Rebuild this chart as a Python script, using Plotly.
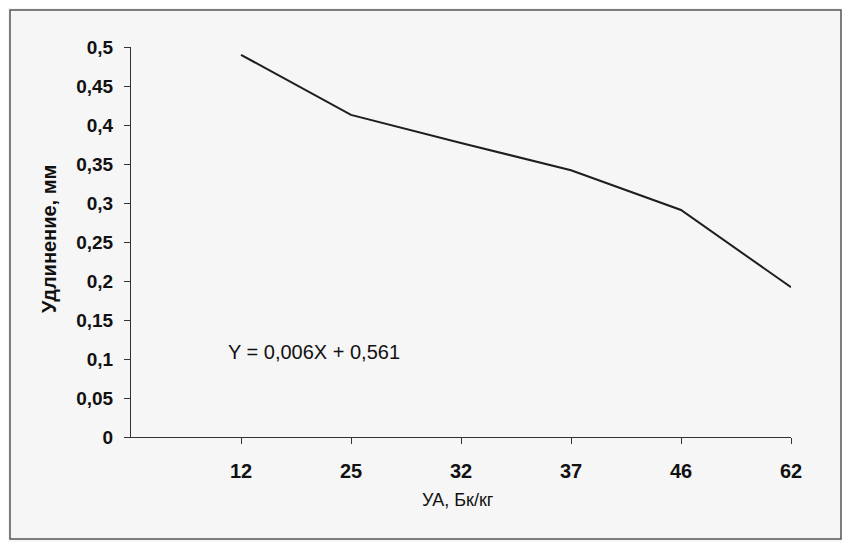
import plotly.graph_objects as go

categories = ["12", "25", "32", "37", "46", "62"]
elongation = [0.49, 0.413, 0.377, 0.342, 0.291, 0.192]
y_ticks = [0, 0.05, 0.1, 0.15, 0.2, 0.25, 0.3, 0.35, 0.4, 0.45, 0.5]
equation = "Y = 0,006X + 0,561"
x_title = "УА, Бк/кг"
y_title = "Удлинение, мм"

# plot area in page pixels (page has 8px body margin)
PX0, PW, PY0, PH = 131, 660, 47, 390
def px(xp):
    return (xp - PX0) / PW
def py(yp):
    return (PY0 + PH - yp) / PH

fig = go.Figure()
fig.add_trace(go.Scatter(x=categories, y=elongation, mode="lines",
                         line=dict(color="#1e1e1e", width=2), showlegend=False))

font_family = "Liberation Sans, Arial, sans-serif"
fig.update_layout(
    width=842, height=534,
    margin=dict(l=PX0 - 8, r=842 - (PX0 - 8) - PW, t=PY0 - 8, b=534 - (PY0 - 8) - PH),
    paper_bgcolor="#f6f6f6", plot_bgcolor="rgba(0,0,0,0)",
    separators=", ",
    font=dict(family=font_family, color="#111111"),
    xaxis=dict(type="category", range=[-1, 5], showgrid=False, zeroline=False,
               showline=True, linecolor="#333333", linewidth=1,
               ticks="outside", ticklen=6, tickcolor="#333333",
               tickfont=dict(size=20, family=font_family, weight="bold"),
               ticklabelstandoff=10),
    yaxis=dict(range=[0, 0.5], tickvals=y_ticks, showgrid=False, zeroline=False,
               showline=True, linecolor="#333333", linewidth=1,
               ticks="outside", ticklen=6, tickcolor="#333333",
               tickfont=dict(size=19, family=font_family, weight="bold"),
               ticklabelstandoff=7),
    annotations=[
        dict(text=equation, x=0.66, y=0.109, xref="x", yref="y", showarrow=False,
             font=dict(size=20, family=font_family), xanchor="center", yanchor="middle"),
        dict(text=x_title, x=px(458), y=py(500), xref="paper", yref="paper",
             showarrow=False, font=dict(size=18, family=font_family),
             xanchor="center", yanchor="middle"),
        dict(text=y_title, x=px(49), y=py(239), xref="paper", yref="paper",
             showarrow=False, textangle=-90, font=dict(size=20, family=font_family, weight="bold"),
             xanchor="center", yanchor="middle"),
    ],
    shapes=[dict(type="rect", xref="paper", yref="paper",
                 x0=px(10), x1=px(841), y0=py(539), y1=py(10),
                 line=dict(color="#555555", width=1.5), fillcolor="rgba(0,0,0,0)", layer="below")],
)

fig.write_html("out.html")
